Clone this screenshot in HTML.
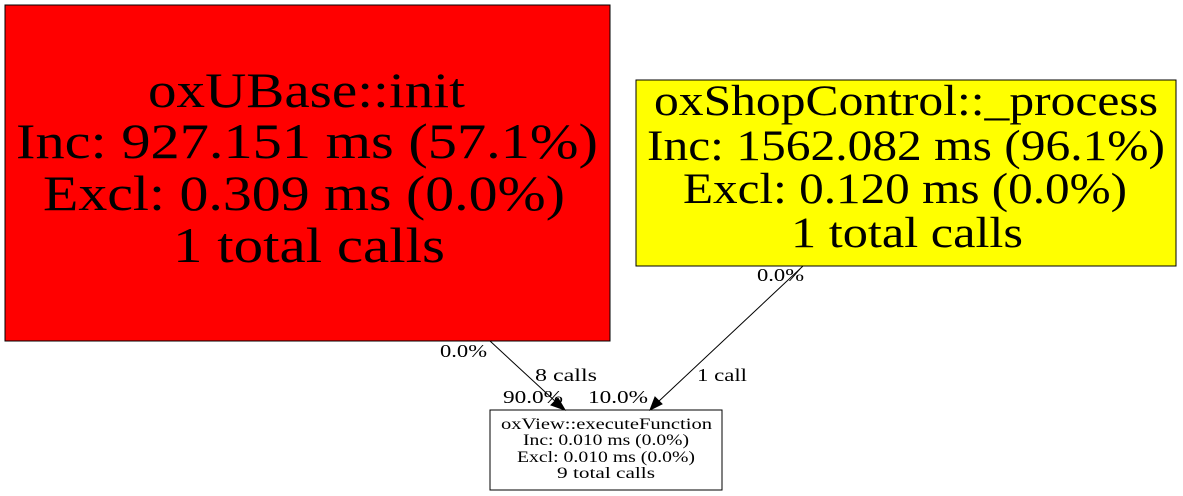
<!DOCTYPE html>
<html><head><meta charset="utf-8"><style>html,body{margin:0;padding:0;background:#fff}svg{display:block}</style></head>
<body>
<svg width="1183" height="496" viewBox="0 0 1183 496" xmlns="http://www.w3.org/2000/svg">
<rect x="5" y="5" width="605" height="336" fill="#ff0000" stroke="#000" stroke-width="1"/>
<g font-family="Liberation Serif, DejaVu Serif, serif" font-size="50" text-anchor="start">
<text x="148" y="107" textLength="317" lengthAdjust="spacingAndGlyphs">oxUBase::init</text>
<text x="16" y="158" textLength="582" lengthAdjust="spacingAndGlyphs">Inc: 927.151 ms (57.1%)</text>
<text x="43" y="210" textLength="522" lengthAdjust="spacingAndGlyphs">Excl: 0.309 ms (0.0%)</text>
<text x="173" y="262" textLength="272" lengthAdjust="spacingAndGlyphs">1 total calls</text>
</g>
<rect x="636" y="80" width="540" height="186" fill="#ffff00" stroke="#000" stroke-width="1"/>
<g font-family="Liberation Serif, DejaVu Serif, serif" font-size="43">
<text x="654" y="115" textLength="504" lengthAdjust="spacingAndGlyphs">oxShopControl::_process</text>
<text x="647" y="160" textLength="518" lengthAdjust="spacingAndGlyphs">Inc: 1562.082 ms (96.1%)</text>
<text x="683" y="203" textLength="444" lengthAdjust="spacingAndGlyphs">Excl: 0.120 ms (0.0%)</text>
<text x="791" y="247" textLength="232" lengthAdjust="spacingAndGlyphs">1 total calls</text>
</g>
<rect x="490" y="410" width="232" height="80" fill="#fff" stroke="#000" stroke-width="1"/>
<g font-family="Liberation Serif, DejaVu Serif, serif" font-size="16">
<text x="501" y="429" textLength="211" lengthAdjust="spacingAndGlyphs">oxView::executeFunction</text>
<text x="523" y="445" textLength="166" lengthAdjust="spacingAndGlyphs">Inc: 0.010 ms (0.0%)</text>
<text x="517" y="462" textLength="178" lengthAdjust="spacingAndGlyphs">Excl: 0.010 ms (0.0%)</text>
<text x="557" y="478" textLength="98" lengthAdjust="spacingAndGlyphs">9 total calls</text>
</g>
<line x1="490" y1="341" x2="556" y2="402" stroke="#000" stroke-width="1"/>
<polygon points="565,410 551,405 558,398" fill="#000" stroke="#000"/>
<line x1="803" y1="266" x2="658" y2="402" stroke="#000" stroke-width="1"/>
<polygon points="650,410 655,397 662,404" fill="#000" stroke="#000"/>
<g font-family="Liberation Serif, DejaVu Serif, serif" font-size="18">
<text x="440" y="357" textLength="47" lengthAdjust="spacingAndGlyphs">0.0%</text>
<text x="535" y="381" textLength="62" lengthAdjust="spacingAndGlyphs">8 calls</text>
<text x="503" y="403" textLength="60" lengthAdjust="spacingAndGlyphs">90.0%</text>
<text x="588" y="403" textLength="60" lengthAdjust="spacingAndGlyphs">10.0%</text>
<text x="697" y="381" textLength="50" lengthAdjust="spacingAndGlyphs">1 call</text>
<text x="757" y="281" textLength="47" lengthAdjust="spacingAndGlyphs">0.0%</text>
</g>
</svg>
</body></html>
